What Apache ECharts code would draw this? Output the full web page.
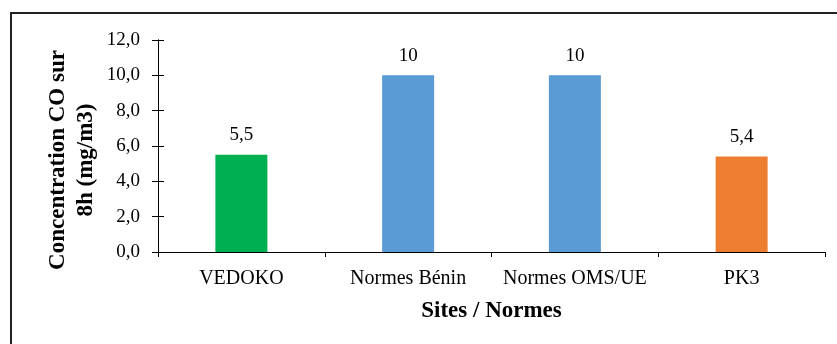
<!DOCTYPE html>
<html>
<head>
<meta charset="utf-8">
<script src="https://cdn.jsdelivr.net/npm/echarts@6/dist/echarts.min.js"></script>
<style>
html,body{margin:0;padding:0;background:#fff;}
#c{width:837px;height:344px;}
</style>
</head>
<body>
<div id="c"></div>
<script>
const categories = ['VEDOKO', 'Normes Bénin', 'Normes OMS/UE', 'PK3'];
const values = [5.5, 10, 10, 5.4];
const barColors = ['#00B050', '#5B9BD5', '#5B9BD5', '#ED7D31'];
const yTitle = 'Concentration CO sur\n8h (mg/m3)';
const xTitle = 'Sites / Normes';

const FONT = '"Liberation Serif", "Times New Roman", serif';
const fmt = v => String(v).replace('.', ',');

const chart = echarts.init(document.getElementById('c'), null, {renderer: 'canvas'});
chart.setOption({
  animation: false,
  backgroundColor: '#fff',
  grid: {left: 158, right: 12, top: 40, bottom: 92, containLabel: false},
  graphic: [
    {type: 'rect', shape: {x: 11, y: 13, width: 900, height: 400},
     style: {fill: 'none', stroke: '#222', lineWidth: 2}, silent: true},
    {type: 'text', x: 72, y: 160, rotation: Math.PI / 2,
     style: {text: yTitle, font: 'bold 23px ' + FONT, fill: '#000',
             align: 'center', verticalAlign: 'middle', lineHeight: 28}}
  ],
  xAxis: {
    type: 'category',
    data: categories,
    name: xTitle,
    nameLocation: 'middle',
    nameGap: 48,
    nameTextStyle: {fontFamily: FONT, fontWeight: 'bold', fontSize: 23, color: '#000'},
    axisLine: {lineStyle: {color: '#000', width: 1}},
    axisTick: {show: true, alignWithLabel: false, length: 5, inside: false, lineStyle: {color: '#000'}},
    axisLabel: {fontFamily: FONT, fontSize: 20, color: '#000', margin: 17, interval: 0},
    splitLine: {show: false}
  },
  yAxis: [{
    type: 'value',
    min: 0, max: 12, interval: 2,
    axisLine: {show: true, lineStyle: {color: '#000', width: 1}},
    axisTick: {show: true, length: 6, lineStyle: {color: '#000'}},
    axisLabel: {fontFamily: FONT, fontSize: 19, color: '#000', margin: 18,
                formatter: v => v.toFixed(1).replace('.', ',')},
    splitLine: {show: false}
  }, {
    type: 'value',
    position: 'left',
    min: 0, max: 12, interval: 2,
    axisLine: {show: true, lineStyle: {color: '#000', width: 1}},
    axisTick: {show: true, inside: true, length: 6, lineStyle: {color: '#000'}},
    axisLabel: {show: false},
    splitLine: {show: false}
  }],
  series: [{
    type: 'bar',
    data: values.map((v, i) => ({value: v, itemStyle: {color: barColors[i]}})),
    barWidth: 52,
    label: {show: true, position: 'top', distance: 10, fontFamily: FONT, fontSize: 19, color: '#000',
            formatter: p => fmt(p.value)}
  }]
});
</script>
</body>
</html>
